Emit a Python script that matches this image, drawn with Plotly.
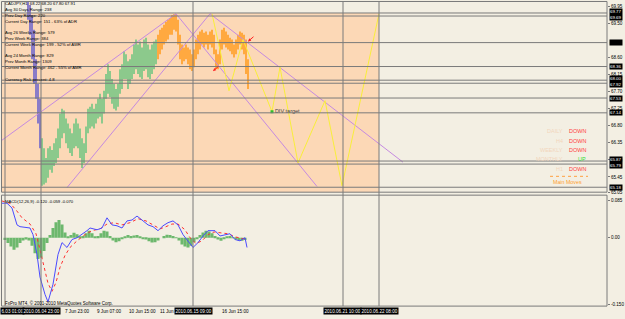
import plotly.graph_objects as go

W, H = 625, 319
def px(x): return x / W
def py(y): return 1 - y / H

# ---------------- price bars (bar index, high, low) ----------------
purple_x = [28, 30, 32, 34, 36, 38, 40]
purple_high = [70.06, 69.98, 69.72, 69.33, 68.55, 67.90, 67.51]
purple_low = [69.59, 69.20, 68.55, 67.90, 67.51, 66.86, 66.21]

green_x = list(range(42, 157, 2))
green_high = [66.47, 66.21, 65.95, 66.21, 66.26, 66.16, 66.34, 66.47, 66.73, 67.12,
              67.25, 67.20, 66.99, 66.86, 66.73, 66.60, 66.86, 66.99, 66.86, 66.73,
              66.47, 66.34, 66.78, 67.25, 67.30, 67.38, 67.25, 67.38, 67.51, 67.64,
              67.51, 67.72, 68.16, 68.42, 68.24, 68.03, 67.90, 67.77, 67.90, 68.29,
              68.42, 68.76, 68.68, 68.50, 68.55, 68.68, 68.94, 69.07, 68.94, 69.02,
              68.86, 69.07, 69.12, 68.94, 68.81, 68.94, 69.02, 69.07]
green_low = [65.22, 65.25, 65.30, 65.43, 65.64, 65.56, 65.74, 65.82, 65.95, 66.21,
             66.47, 66.60, 66.34, 66.21, 66.08, 66.00, 66.21, 66.26, 66.21, 65.95,
             65.69, 65.82, 66.08, 66.60, 66.73, 66.78, 66.73, 66.86, 66.99, 67.04,
             66.86, 67.12, 67.51, 67.64, 67.56, 67.38, 67.25, 67.20, 67.30, 67.64,
             67.77, 68.03, 68.03, 67.77, 67.90, 68.03, 68.16, 68.29, 68.16, 68.08,
             68.03, 68.24, 68.29, 68.08, 68.03, 68.16, 68.29, 68.42]

orange_x = list(range(158, 249, 2))
orange_high = [69.20, 69.33, 69.38, 69.46, 69.54, 69.59, 69.64, 69.72, 69.74, 69.74,
               69.59, 69.20, 68.94, 68.86, 68.94, 68.86, 68.81, 68.68, 68.81, 69.07,
               69.20, 69.28, 69.33, 69.25, 69.28, 69.20, 69.28, 69.33, 69.20, 68.81,
               68.68, 69.07, 69.33, 69.38, 69.28, 69.20, 69.12, 69.07, 68.94, 69.07,
               69.20, 69.28, 69.25, 69.20, 69.07, 68.55]
orange_low = [68.55, 68.68, 68.81, 68.94, 69.02, 69.07, 69.20, 69.20, 69.33, 69.28,
              68.94, 68.55, 68.42, 68.50, 68.55, 68.42, 68.29, 68.24, 68.34, 68.55,
              68.68, 68.81, 68.94, 68.86, 68.94, 68.81, 68.94, 68.86, 68.68, 68.29,
              68.29, 68.42, 68.81, 68.94, 68.86, 68.81, 68.76, 68.68, 68.60, 68.68,
              68.81, 68.94, 68.81, 68.68, 68.16, 67.77]

# ---------------- drawings ----------------
trend_lines = [  # (x0, p0, x1, p1)
    (2, 66.42, 176, 69.75),
    (176, 69.75, 317, 65.20),
    (67, 65.17, 210, 69.75),
    (210, 69.75, 403, 65.84),
]
yellow_x = [212, 229, 243, 272, 280, 298, 325, 342, 379]
yellow_p = [69.75, 67.72, 69.07, 67.17, 68.34, 65.82, 67.46, 65.22, 69.75]

level_prices = [69.77, 69.69, 68.99, 68.36, 68.00, 67.92, 67.53, 67.14, 65.87, 65.79, 65.18]
# right-axis price boxes: (centre price, text)
level_boxes = [(69.73, "69.77<br>69.69"), (68.99, ""), (68.36, "68.36"), (67.96, "68.00<br>67.92"),
               (67.53, "67.53"), (67.14, "67.14"), (65.83, "65.87<br>65.79"), (65.18, "65.18")]
vertical_bars = [5, 41, 193, 343, 379]

price_ticks = [69.95, 69.50, 68.60, 68.15, 67.70, 67.25, 66.80, 66.35, 65.90, 65.45, 65.05]

# ---------------- MACD ----------------
macd_x = [2, 7, 12, 17, 20, 30, 33, 37, 40, 45, 48, 53, 58, 62, 67, 72, 77, 82, 87, 90,
          97, 102, 107, 112, 117, 122, 127, 132, 137, 142, 148, 153, 158, 163, 168, 173,
          178, 183, 188, 193, 198, 203, 208, 215, 220, 225, 230, 235, 240, 245, 247]
macd_main = [0.078, 0.078, 0.067, 0.029, 0.025, 0.022, 0.007, -0.038, -0.089, -0.128,
             -0.145, -0.105, -0.038, -0.011, -0.022, -0.004, 0.0, 0.007, 0.016, 0.022,
             0.018, 0.022, 0.045, 0.029, 0.027, 0.022, 0.038, 0.040, 0.049, 0.040,
             0.029, 0.025, 0.016, 0.027, 0.034, 0.038, 0.029, 0.007, -0.007, -0.022,
             -0.011, 0.004, 0.016, 0.016, 0.004, 0.007, 0.009, -0.004, -0.007, 0.0, -0.022]
sig_x = [2, 10, 16, 22, 30, 36, 40, 44, 48, 52, 56, 60, 65, 70, 77, 85, 92, 100, 107, 114,
         122, 130, 138, 146, 153, 160, 166, 172, 178, 185, 190, 196, 202, 208, 214, 220,
         228, 235, 242, 247]
macd_signal = [0.083, 0.078, 0.063, 0.045, 0.031, 0.009, -0.027, -0.067, -0.103, -0.121,
               -0.101, -0.067, -0.040, -0.022, -0.007, 0.007, 0.016, 0.020, 0.031, 0.034,
               0.029, 0.034, 0.043, 0.038, 0.029, 0.020, 0.025, 0.031, 0.031, 0.018,
               0.0, -0.013, -0.007, 0.007, 0.013, 0.011, 0.009, 0.002, -0.002, -0.004]
hist_x = list(range(5, 246, 3))
macd_hist = [-0.005, -0.012, -0.020, -0.027, -0.022, -0.012, -0.006, -0.004, -0.006, -0.018,
             -0.035, -0.048, -0.045, -0.030, -0.012, 0.006, 0.022, 0.035, 0.040, 0.030,
             0.012, 0.002, 0.006, 0.011, 0.008, 0.002, 0.004, 0.010, 0.016, 0.010,
             0.003, 0.004, 0.010, 0.016, 0.014, 0.004, -0.006, -0.010, -0.008, -0.002,
             0.003, 0.006, 0.004, 0.005, 0.006, 0.002, -0.002, -0.004, -0.008, -0.011,
             -0.010, -0.006, 0.0, 0.004, 0.007, 0.006, 0.004, 0.001, -0.006, -0.015,
             -0.020, -0.022, -0.018, -0.010, -0.002, 0.006, 0.012, 0.016, 0.014, 0.010,
             0.004, -0.004, -0.007, -0.003, 0.002, 0.004, 0.001, -0.004, -0.006, -0.007,
             -0.005]

time_labels = [("7 Jun 23:00", 63), ("9 Jun 07:00", 95), ("10 Jun 15:00", 127),
               ("11 Jun", 158), ("16 Jun 15:00", 220)]
time_boxes = [("2010.06.04 23:00", 41), ("2010.06.15 09:00", 193),
              ("2010.06.21 10:00", 342), ("2010.06.22 08:00", 379)]
first_box = "6.03 01:00"

info_lines = [
    ("CADJPY,H1  68.22 68.20 67.80 67.91", 4),
    ("Avg 30 Days Range: 238", 10),
    ("Prev Day Range: 220", 16),
    ("Current Day Range: 151 - 63% of ADR", 22),
    ("Avg 26 Weeks Range: 579", 33),
    ("Prev Week Range: 384", 39),
    ("Current Week Range: 199 - 52% of AWR", 45),
    ("Avg 24 Month Range: 829", 56),
    ("Prev Month Range: 1309", 62),
    ("Current Month Range: 462 - 55% of AMR", 68),
    ("Currency Risk percent: 4.8", 80),
]
trend_rows = [("DAILY", "DOWN", "#FF4040", 132), ("H4", "DOWN", "#FF4040", 142),
              ("WEEKLY", "DOWN", "#FF4040", 151), ("MONTHLY", "UP", "#33DD33", 161),
              ("H1", "DOWN", "#FF4040", 171)]

CREAM = "#F3EFE3"
PEACH = "#FCD8B6"
GRID = "#7A7A7A"
FONT = "Liberation Sans"

fig = go.Figure()

def bars(xs, hi, lo, color):
    fig.add_trace(go.Bar(x=xs, y=[h - l for h, l in zip(hi, lo)], base=lo, width=1.7,
                         marker=dict(color=color, line=dict(width=0)), xaxis="x", yaxis="y",
                         showlegend=False, hoverinfo="skip"))

bars(purple_x, purple_high, purple_low, "#8A7CC8")
bars(green_x, green_high, green_low, "#8CC98C")
bars(orange_x, orange_high, orange_low, "#FFA940")

for (x0, p0, x1, p1) in trend_lines:
    fig.add_trace(go.Scatter(x=[x0, x1], y=[p0, p1], mode="lines",
                             line=dict(color="#C58AE0", width=1), xaxis="x", yaxis="y",
                             showlegend=False, hoverinfo="skip"))
fig.add_trace(go.Scatter(x=yellow_x, y=yellow_p, mode="lines",
                         line=dict(color="#F8EE3A", width=1), xaxis="x", yaxis="y",
                         showlegend=False, hoverinfo="skip"))
fig.add_trace(go.Scatter(x=[yellow_x[3]], y=[yellow_p[3]], mode="markers+text",
                         marker=dict(color="#30C030", size=3, symbol="square"),
                         text=["DIV target"], textposition="middle right",
                         textfont=dict(size=5.5, color="#404040", family=FONT),
                         xaxis="x", yaxis="y", showlegend=False, hoverinfo="skip"))

fig.add_trace(go.Bar(x=hist_x, y=macd_hist, width=3.05, marker=dict(color="#6DB86D", line=dict(width=0)),
                     xaxis="x2", yaxis="y2", showlegend=False, hoverinfo="skip"))
fig.add_trace(go.Scatter(x=sig_x, y=macd_signal, mode="lines", line=dict(color="#FF3030", width=1, dash="dot"),
                         xaxis="x2", yaxis="y2", showlegend=False, hoverinfo="skip"))
fig.add_trace(go.Scatter(x=macd_x, y=macd_main, mode="lines", line=dict(color="#4A4AFF", width=1),
                         xaxis="x2", yaxis="y2", showlegend=False, hoverinfo="skip"))

shapes = []
shapes.append(dict(type="rect", xref="x", yref="paper", x0=2, x1=379, y0=py(194), y1=py(13),
                   fillcolor=PEACH, line=dict(width=0), layer="below"))
for p in level_prices:
    shapes.append(dict(type="line", xref="paper", yref="y", x0=px(2), x1=px(607), y0=p, y1=p,
                       line=dict(color=GRID, width=1)))
for vx in vertical_bars:
    shapes.append(dict(type="line", xref="x", yref="paper", x0=vx, x1=vx, y0=py(309), y1=py(2),
                       line=dict(color=GRID, width=1)))
shapes.append(dict(type="rect", xref="paper", yref="paper", x0=px(1.5), x1=px(607), y0=py(194), y1=py(1.5),
                   line=dict(color=GRID, width=1)))
shapes.append(dict(type="rect", xref="paper", yref="paper", x0=px(1.5), x1=px(607), y0=py(309), y1=py(197),
                   line=dict(color=GRID, width=1)))
shapes.append(dict(type="line", xref="paper", yref="paper", x0=px(550), x1=px(588), y0=py(178), y1=py(178),
                   line=dict(color="#FFA040", width=1, dash="dot")))

ann = []
for txt, y in info_lines:
    ann.append(dict(text=txt, xref="paper", yref="paper", x=px(3), y=py(y), xanchor="left", yanchor="middle",
                    showarrow=False, font=dict(size=4.2, color="#000000", family=FONT)))
for faded, word, col, y in trend_rows:
    ann.append(dict(text=faded, xref="paper", yref="paper", x=px(565), y=py(y), xanchor="right", yanchor="middle",
                    showarrow=False, font=dict(size=5.5, color="#F2D6BC", family=FONT)))
    ann.append(dict(text=word, xref="paper", yref="paper", x=px(588), y=py(y), xanchor="right", yanchor="middle",
                    showarrow=False, font=dict(size=5.5, color=col, family=FONT)))
ann.append(dict(text="Main Moves", xref="paper", yref="paper", x=px(584), y=py(183.5), xanchor="right",
                yanchor="middle", showarrow=False, font=dict(size=5.3, color="#FFA030", family=FONT)))
# red arrows
for (hx, hp) in [(213, 68.24), (248, 69.02)]:
    ann.append(dict(x=hx, y=hp, xref="x", yref="y", ax=7, ay=-6, showarrow=True, arrowcolor="#FF2020",
                    arrowwidth=1, arrowhead=2, arrowsize=0.6, text=""))
ann.append(dict(text="MACD(12,26,9) -0.120 -0.059 -0.070", xref="paper", yref="paper", x=px(3), y=py(203),
                xanchor="left", yanchor="middle", showarrow=False, font=dict(size=4.2, color="#000000", family=FONT)))
ann.append(dict(text="FxPro MT4, © 2001-2010 MetaQuotes Software Corp.", xref="paper", yref="paper", x=px(3),
                y=py(306), xanchor="left", yanchor="middle", showarrow=False,
                font=dict(size=4.5, color="#000000", family=FONT)))
# right price-axis boxes
for p, lab in level_boxes:
    ann.append(dict(text=lab if lab else "00.00", xref="paper", yref="y", x=px(608.5), y=p, xanchor="left",
                    yanchor="middle", showarrow=False, bgcolor="#000000", borderpad=0,
                    font=dict(size=4.4, color="#FFFFFF" if lab else "#000000", family=FONT)))
for txt, x in time_labels:
    ann.append(dict(text=txt, xref="x2", yref="paper", x=x, y=py(314), xanchor="left", yanchor="middle",
                    showarrow=False, font=dict(size=4.6, color="#000000", family=FONT)))
ann.append(dict(text=first_box, xref="paper", yref="paper", x=0, y=py(314), xanchor="left", yanchor="middle",
                showarrow=False, bgcolor="#000000", borderpad=0.5,
                font=dict(size=4.6, color="#FFFFFF", family=FONT)))
for txt, x in time_boxes:
    ann.append(dict(text=txt, xref="x2", yref="paper", x=x, y=py(314), xanchor="center", yanchor="middle",
                    showarrow=False, bgcolor="#000000", borderpad=0.5,
                    font=dict(size=4.6, color="#FFFFFF", family=FONT)))

fig.update_layout(
    width=W, height=H, margin=dict(l=0, r=0, t=0, b=0),
    paper_bgcolor=CREAM, plot_bgcolor=CREAM, barmode="overlay",
    xaxis=dict(domain=[px(2), px(607)], range=[2, 607], showticklabels=False, showgrid=False,
               zeroline=False, anchor="y"),
    yaxis=dict(domain=[py(194), py(2)], range=[65.05, 70.06], side="right", tickvals=price_ticks,
               ticktext=[f"{v:.2f}" for v in price_ticks], ticks="outside", ticklen=2, tickcolor=GRID,
               tickfont=dict(size=4.6, color="#000000", family=FONT), showgrid=False, zeroline=False,
               anchor="x"),
    xaxis2=dict(domain=[px(2), px(607)], range=[2, 607], showticklabels=False, showgrid=False,
                zeroline=False, anchor="y2"),
    yaxis2=dict(domain=[py(309), py(197)], range=[-0.1544, 0.0962], side="right",
                tickvals=[0.085, 0.0, -0.150], ticktext=["0.085", "0.00", "-0.150"], ticks="outside",
                ticklen=2, tickcolor=GRID, tickfont=dict(size=4.6, color="#000000", family=FONT),
                showgrid=False, zeroline=False, anchor="x2"),
    shapes=shapes, annotations=ann,
)

fig.write_html("out.html")
